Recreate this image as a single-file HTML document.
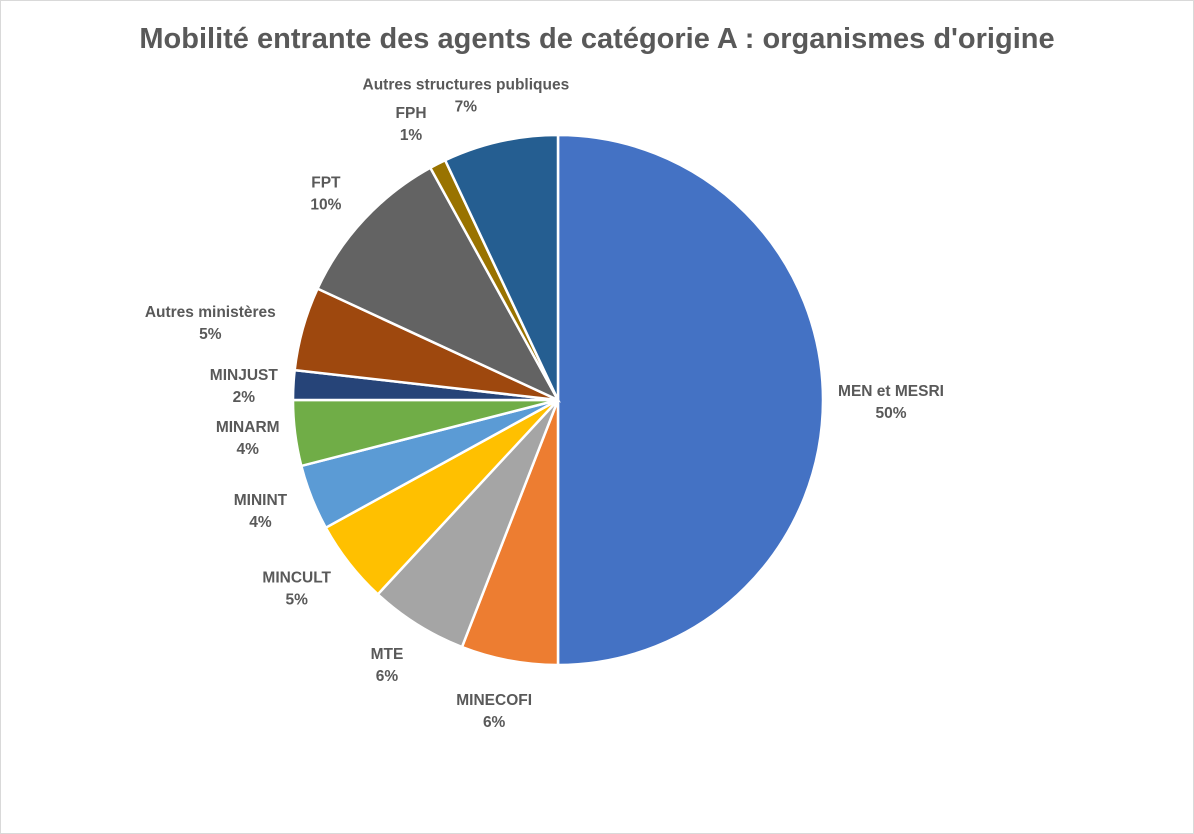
<!DOCTYPE html>
<html><head><meta charset="utf-8"><style>
html,body{margin:0;padding:0;background:#fff}
svg{display:block;font-family:"Liberation Sans",sans-serif}
</style></head><body>
<svg id="chart" width="1194" height="834" viewBox="0 0 1194 834">
<rect x="0.5" y="0.5" width="1193" height="833" fill="#fff" stroke="#d9d9d9"/>
<text x="597" y="48" text-anchor="middle" font-size="29" font-weight="bold" fill="#595959">Mobilité entrante des agents de catégorie A : organismes d'origine</text>
<g id="slices"></g><g id="labels"></g>
</svg>
<script>
const categories = ["MEN et MESRI","MINECOFI","MTE","MINCULT","MININT","MINARM","MINJUST","Autres ministères","FPT","FPH","Autres structures publiques"];
const values = [50,5.9,6,5.1,4,4,1.8,5.1,10.1,1,7];
const valueLabels = ["50%","6%","6%","5%","4%","4%","2%","5%","10%","1%","7%"];
const colors = ["#4472C4","#ED7D31","#A5A5A5","#FFC000","#5B9BD5","#70AD47","#264478","#9E480E","#636363","#997300","#255E91"];
const NS="http://www.w3.org/2000/svg";
const cx=558, cy=400, r=265;
const total=values.reduce((a,b)=>a+b,0);
const gS=document.getElementById('slices'), gL=document.getElementById('labels');
function pt(a,d){return [cx+d*Math.sin(a), cy-d*Math.cos(a)];}
let acc=0;
values.forEach((v,i)=>{
  const a0=acc/total*2*Math.PI; acc+=v; const a1=acc/total*2*Math.PI;
  const p0=pt(a0,r), p1=pt(a1,r);
  const large=(a1-a0)>Math.PI?1:0;
  const p=document.createElementNS(NS,'path');
  p.setAttribute('d',`M${cx},${cy} L${p0[0]},${p0[1]} A${r},${r} 0 ${large} 1 ${p1[0]},${p1[1]} Z`);
  p.setAttribute('fill',colors[i]); p.setAttribute('stroke','#fff'); p.setAttribute('stroke-width','2.5');
  
  
  gS.appendChild(p);
  const am=(a0+a1)/2, s=Math.sin(am), c=Math.cos(am);
  const d=285+30*Math.abs(c);
  const q=pt(am,d);
  const lw=categories[i].length*8;
  const x=q[0]+s*lw/2;
  const t=document.createElementNS(NS,'text');
  t.setAttribute('text-anchor','middle');
  t.setAttribute('font-size','15.5'); t.setAttribute('font-weight','bold'); t.setAttribute('fill','#595959');
  
  
  const t1=document.createElementNS(NS,'tspan');
  t1.setAttribute('x',x); t1.setAttribute('y',q[1]-4); t1.textContent=categories[i];
  const t2=document.createElementNS(NS,'tspan');
  t2.setAttribute('x',x); t2.setAttribute('y',q[1]+18); t2.textContent=valueLabels[i];
  t.appendChild(t1); t.appendChild(t2); gL.appendChild(t);
});
</script>
</body></html>
